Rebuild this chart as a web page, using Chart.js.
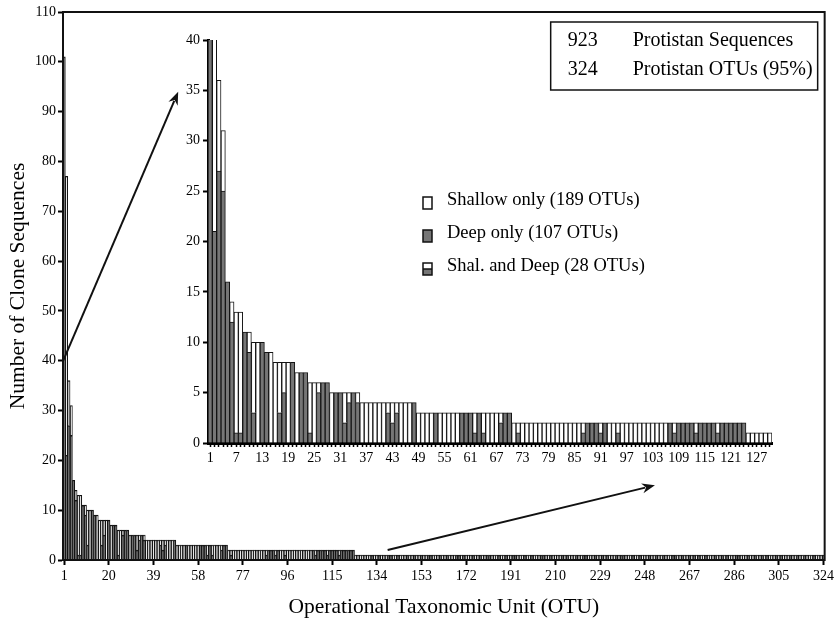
<!DOCTYPE html>
<html>
<head>
<meta charset="utf-8">
<script src="https://cdn.jsdelivr.net/npm/chart.js@4.4.0/dist/chart.umd.min.js"></script>
<style>
body { margin: 0; background: #fff; }
#wrap { position: relative; width: 837px; height: 622px; }
#wrap canvas { position: absolute; left: 0; top: 0; }
</style>
</head>
<body>
<div id="wrap">
<canvas id="mainChart" width="837" height="622"></canvas>
<canvas id="insetChart" width="837" height="622"></canvas>
</div>
<script>
// clones per OTU, rank order (1..324)
const totals = [
    101, 77, 36, 31, 16, 14, 13, 13, 11, 11, 10, 10, 10, 9, 9, 8, 8, 8, 8, 8,
    7, 7, 7, 6, 6, 6, 6, 6, 5, 5, 5, 5, 5, 5, 5, 4, 4, 4, 4, 4,
    4, 4, 4, 4, 4, 4, 4, 4, 3, 3, 3, 3, 3, 3, 3, 3, 3, 3, 3, 3,
    3, 3, 3, 3, 3, 3, 3, 3, 3, 3, 2, 2, 2, 2, 2, 2, 2, 2, 2, 2,
    2, 2, 2, 2, 2, 2, 2, 2, 2, 2, 2, 2, 2, 2, 2, 2, 2, 2, 2, 2,
    2, 2, 2, 2, 2, 2, 2, 2, 2, 2, 2, 2, 2, 2, 2, 2, 2, 2, 2, 2,
    2, 2, 2, 2, 1, 1, 1, 1, 1, 1, 1, 1, 1, 1, 1, 1, 1, 1, 1, 1,
    1, 1, 1, 1, 1, 1, 1, 1, 1, 1, 1, 1, 1, 1, 1, 1, 1, 1, 1, 1,
    1, 1, 1, 1, 1, 1, 1, 1, 1, 1, 1, 1, 1, 1, 1, 1, 1, 1, 1, 1,
    1, 1, 1, 1, 1, 1, 1, 1, 1, 1, 1, 1, 1, 1, 1, 1, 1, 1, 1, 1,
    1, 1, 1, 1, 1, 1, 1, 1, 1, 1, 1, 1, 1, 1, 1, 1, 1, 1, 1, 1,
    1, 1, 1, 1, 1, 1, 1, 1, 1, 1, 1, 1, 1, 1, 1, 1, 1, 1, 1, 1,
    1, 1, 1, 1, 1, 1, 1, 1, 1, 1, 1, 1, 1, 1, 1, 1, 1, 1, 1, 1,
    1, 1, 1, 1, 1, 1, 1, 1, 1, 1, 1, 1, 1, 1, 1, 1, 1, 1, 1, 1,
    1, 1, 1, 1, 1, 1, 1, 1, 1, 1, 1, 1, 1, 1, 1, 1, 1, 1, 1, 1,
    1, 1, 1, 1, 1, 1, 1, 1, 1, 1, 1, 1, 1, 1, 1, 1, 1, 1, 1, 1,
    1, 1, 1, 1
];

// part of each OTU found in the deep sample (grey), rest is shallow (white)
const deepCounts = [
    101, 21, 27, 25, 16, 12, 1, 1, 11, 9, 3, 0, 10, 9, 0, 0, 3, 5, 0, 8,
    0, 7, 7, 1, 0, 5, 6, 6, 0, 5, 5, 2, 4, 5, 4, 0, 0, 0, 0, 0,
    0, 3, 2, 3, 0, 0, 0, 4, 0, 0, 0, 0, 3, 0, 0, 0, 0, 0, 3, 3,
    3, 1, 3, 1, 0, 0, 0, 2, 3, 3, 0, 1, 0, 0, 0, 0, 0, 0, 0, 0,
    0, 0, 0, 0, 0, 0, 1, 2, 2, 2, 1, 2, 0, 0, 1, 0, 0, 0, 0, 0,
    0, 0, 0, 0, 0, 0, 2, 1, 2, 2, 2, 2, 1, 2, 2, 2, 2, 1, 2, 2,
    2, 2, 2, 2, 0, 0, 0, 0, 0, 0, 0, 1, 0, 0, 1, 0, 0, 0, 1, 1,
    0, 0, 1, 0, 0, 0, 1, 0, 0, 1, 0, 0, 1, 0, 0, 1, 1, 0, 0, 0,
    1, 0, 0, 1, 0, 0, 0, 1, 1, 0, 1, 0, 0, 0, 1, 0, 0, 1, 0, 0,
    1, 1, 0, 0, 0, 1, 0, 0, 1, 0, 0, 1, 1, 0, 0, 0, 1, 0, 0, 1,
    0, 0, 0, 1, 1, 0, 0, 1, 0, 0, 0, 0, 1, 0, 1, 0, 0, 0, 1, 0,
    0, 1, 1, 0, 0, 0, 1, 0, 0, 1, 0, 1, 0, 0, 0, 1, 0, 1, 1, 0,
    0, 0, 1, 0, 0, 1, 0, 0, 0, 1, 0, 0, 1, 0, 0, 1, 0, 0, 0, 1,
    1, 0, 0, 1, 0, 0, 1, 0, 1, 0, 1, 0, 0, 1, 0, 0, 0, 1, 0, 0,
    1, 0, 1, 0, 0, 0, 1, 1, 0, 0, 0, 1, 0, 0, 1, 0, 0, 1, 0, 1,
    0, 0, 0, 1, 0, 1, 0, 0, 0, 1, 0, 0, 1, 0, 0, 1, 0, 0, 0, 1,
    0, 0, 0, 1
];

const shallowCounts = totals.map((t, i) => t - deepCounts[i]);
const otuLabels = totals.map((t, i) => String(i + 1));

const insetCount = 130;
const mainTickEvery = 19;
const insetTickEvery = 6;

const legendItems = ['Shallow only (189 OTUs)', 'Deep only (107 OTUs)', 'Shal. and Deep (28 OTUs)'];
const summaryLines = [['923', 'Protistan Sequences'], ['324', 'Protistan OTUs (95%)']];

const GREY = '#767676';
const EDGE = '#141414';

Chart.defaults.font.family = '"Liberation Serif", "Times New Roman", serif';
Chart.defaults.color = '#000';

function drawArrow(ctx, x1, y1, x2, y2) {
    const ang = Math.atan2(y2 - y1, x2 - x1);
    const head = 13, half = 5;
    const bx = x2 - head * Math.cos(ang), by = y2 - head * Math.sin(ang);
    ctx.beginPath();
    ctx.moveTo(x1, y1);
    ctx.lineTo(bx + 3 * Math.cos(ang), by + 3 * Math.sin(ang));
    ctx.stroke();
    ctx.beginPath();
    ctx.moveTo(x2, y2);
    ctx.lineTo(bx + half * Math.sin(ang), by - half * Math.cos(ang));
    ctx.lineTo(bx + 4 * Math.cos(ang), by + 4 * Math.sin(ang));
    ctx.lineTo(bx - half * Math.sin(ang), by + half * Math.cos(ang));
    ctx.closePath();
    ctx.fill();
}

// arrows in main-chart data units: [otu index, clones]
const arrowSpecs = [
    { from: [-0.4, 40], to: [48.5, 94] },
    { from: [137.6, 2], to: [251.3, 15] }
];

const mainDecor = {
    id: 'mainDecor',
    afterDraw(chart) {
        const { ctx, chartArea: a, scales } = chart;
        ctx.save();
        ctx.strokeStyle = '#111';
        ctx.fillStyle = '#111';
        ctx.lineWidth = 2;
        ctx.strokeRect(a.left, a.top, a.right - a.left, a.bottom - a.top);

        arrowSpecs.forEach(s => {
            drawArrow(ctx,
                scales.x.getPixelForValue(s.from[0]), scales.y.getPixelForValue(s.from[1]),
                scales.x.getPixelForValue(s.to[0]), scales.y.getPixelForValue(s.to[1]));
        });

        // summary box, top right
        ctx.font = '20px "Liberation Serif"';
        const textW = Math.max(...summaryLines.map(l => ctx.measureText(l[1]).width));
        const right = a.right - 7, top = a.top + 10, h = 68;
        const textX = right - 5 - textW;
        const numX = textX - 65;
        const left = numX - 17;
        ctx.lineWidth = 1.5;
        ctx.strokeRect(left, top, right - left, h);
        ctx.textBaseline = 'middle';
        ctx.fillStyle = '#000';
        summaryLines.forEach((l, i) => {
            const y = top + 19 + i * 29;
            ctx.fillText(l[0], numX, y);
            ctx.fillText(l[1], textX, y);
        });
        ctx.restore();
    }
};

const insetLegend = {
    id: 'insetLegend',
    afterDraw(chart) {
        const { ctx, chartArea: a } = chart;
        ctx.save();
        ctx.font = '18.5px "Liberation Serif"';
        ctx.textBaseline = 'middle';
        legendItems.forEach((text, i) => {
            const cy = a.top + 163 + i * 33;
            const bx = a.left + 215, bw = 9, bh = 12;
            ctx.lineWidth = 1.5;
            ctx.strokeStyle = '#111';
            if (i === 0) {
                ctx.fillStyle = '#fff';
                ctx.fillRect(bx, cy - bh / 2, bw, bh);
            } else if (i === 1) {
                ctx.fillStyle = GREY;
                ctx.fillRect(bx, cy - bh / 2, bw, bh);
            } else {
                ctx.fillStyle = '#fff';
                ctx.fillRect(bx, cy - bh / 2, bw, bh / 2);
                ctx.fillStyle = GREY;
                ctx.fillRect(bx, cy, bw, bh / 2);
                ctx.beginPath();
                ctx.moveTo(bx, cy);
                ctx.lineTo(bx + bw, cy);
                ctx.stroke();
            }
            ctx.strokeRect(bx, cy - bh / 2, bw, bh);
            ctx.fillStyle = '#000';
            ctx.fillText(text, a.left + 239, cy - 3);
        });
        ctx.restore();
    }
};

new Chart(document.getElementById('mainChart'), {
    type: 'bar',
    data: {
        labels: otuLabels,
        datasets: [
            { label: 'Deep', data: deepCounts, backgroundColor: '#666', borderColor: EDGE, borderWidth: 1.1 },
            { label: 'Shallow', data: shallowCounts, backgroundColor: '#fff', borderColor: EDGE, borderWidth: 1.1 }
        ]
    },
    options: {
        responsive: false,
        animation: false,
        events: [],
        layout: { padding: { top: 12, right: 11, left: 0, bottom: 0 } },
        datasets: { bar: { categoryPercentage: 1, barPercentage: 1 } },
        plugins: { legend: { display: false }, tooltip: { enabled: false } },
        scales: {
            x: {
                stacked: true,
                grid: {
                    drawOnChartArea: false, offset: false, tickLength: 5, tickWidth: 2,
                    tickColor: c => (c.index % mainTickEvery === 0 ? '#000' : 'rgba(0,0,0,0)')
                },
                border: { color: '#000', width: 2 },
                ticks: {
                    autoSkip: false, maxRotation: 0, padding: 3, font: { size: 14 },
                    callback: (v, i) => (i % mainTickEvery === 0 ? otuLabels[i] : '')
                },
                title: { display: true, text: 'Operational Taxonomic Unit (OTU)', font: { size: 21.5 }, padding: { top: 0, bottom: 2 } },
                afterFit: s => { s.height = 62; }
            },
            y: {
                stacked: true,
                min: 0,
                max: 110,
                ticks: { stepSize: 10, padding: 2, font: { size: 14 } },
                grid: { drawOnChartArea: false, tickLength: 5, tickWidth: 2, tickColor: '#000' },
                border: { color: '#000', width: 2 },
                title: { display: true, text: 'Number of Clone Sequences', font: { size: 21.5 }, padding: { top: 5, bottom: 0 } },
                afterFit: s => { s.width = 63; }
            }
        }
    },
    plugins: [mainDecor]
});

new Chart(document.getElementById('insetChart'), {
    type: 'bar',
    data: {
        labels: otuLabels.slice(0, insetCount),
        datasets: [
            { label: 'Deep', data: deepCounts.slice(0, insetCount), backgroundColor: GREY, borderColor: EDGE, borderWidth: 1 },
            { label: 'Shallow', data: shallowCounts.slice(0, insetCount), backgroundColor: '#fff', borderColor: EDGE, borderWidth: 1 }
        ]
    },
    options: {
        responsive: false,
        animation: false,
        events: [],
        layout: { padding: { top: 40, right: 65, left: 158, bottom: 149 } },
        datasets: { bar: { categoryPercentage: 1, barPercentage: 1 } },
        plugins: { legend: { display: false }, tooltip: { enabled: false } },
        scales: {
            x: {
                stacked: true,
                grid: { drawOnChartArea: false, offset: false, tickLength: 4, tickWidth: 1.5, tickColor: '#000' },
                border: { color: '#000', width: 3 },
                ticks: {
                    autoSkip: false, maxRotation: 0, padding: 3, font: { size: 14 },
                    callback: (v, i) => (i % insetTickEvery === 0 ? otuLabels[i] : '')
                },
                afterFit: s => { s.height = 30; }
            },
            y: {
                stacked: true,
                min: 0,
                max: 40,
                ticks: { stepSize: 5, padding: 3, font: { size: 14 } },
                grid: { drawOnChartArea: false, tickLength: 5, tickWidth: 2, tickColor: '#000' },
                border: { color: '#000', width: 3 },
                afterFit: s => { s.width = 50; }
            }
        }
    },
    plugins: [insetLegend]
});
</script>
</body>
</html>
